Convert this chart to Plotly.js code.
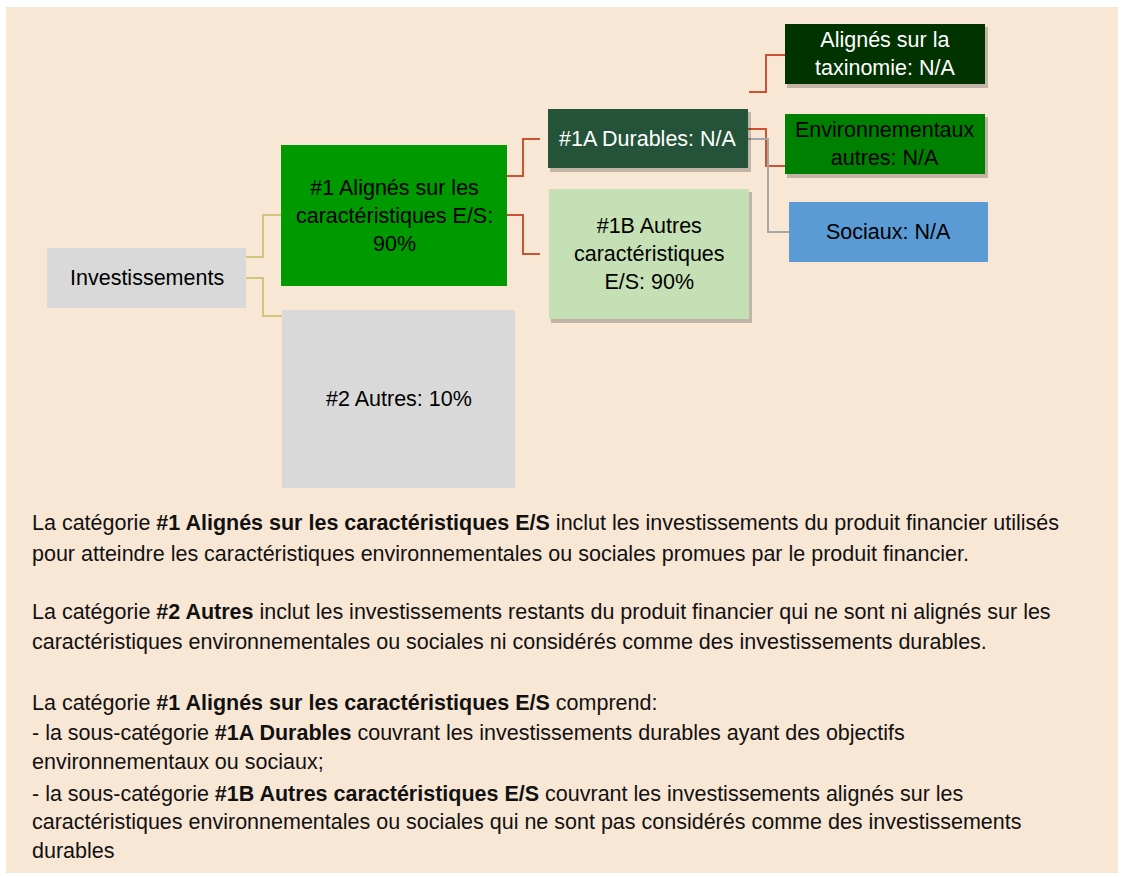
<!DOCTYPE html>
<html>
<head>
<meta charset="utf-8">
<script src="https://cdn.plot.ly/plotly-3.0.1.min.js"></script>
<style>html,body{margin:0;padding:0;background:#fff;}#chart{width:1123px;height:877px;}</style>
</head>
<body>
<div id="chart"></div>
<script>
// ---- data ----
const nodeNames = ["Investissements", "#1 Alignés sur les<br>caractéristiques E/S:", "#2 Autres:", "#1A Durables:", "#1B Autres<br>caractéristiques<br>E/S:", "Alignés sur la<br>taxinomie:", "Environnementaux<br>autres:", "Sociaux:"];
const nodeValues = ["", "90%", "10%", "N/A", "90%", "N/A", "N/A", "N/A"];
const valueJoin = ["", "<br>", " ", " ", " ", " ", " ", " "];
const parentIndex = [-1, 0, 0, 1, 1, 3, 3, 3];
const paragraphs = [
  "La catégorie <b>#1 Alignés sur les caractéristiques E/S</b> inclut les investissements du produit financier utilisés",
  "pour atteindre les caractéristiques environnementales ou sociales promues par le produit financier.",
  "La catégorie <b>#2 Autres</b> inclut les investissements restants du produit financier qui ne sont ni alignés sur les",
  "caractéristiques environnementales ou sociales ni considérés comme des investissements durables.",
  "La catégorie <b>#1 Alignés sur les caractéristiques E/S</b> comprend:",
  "- la sous-catégorie <b>#1A Durables</b> couvrant les investissements durables ayant des objectifs",
  "environnementaux ou sociaux;",
  "- la sous-catégorie <b>#1B Autres caractéristiques E/S</b> couvrant les investissements alignés sur les",
  "caractéristiques environnementales ou sociales qui ne sont pas considérés comme des investissements",
  "durables"
];

// ---- layout / styling (positions in axis units) ----
const boxes = [
  {x0:47,  x1:246, y0:248, y1:308, fill:"#d9d9d9", font:"#000", shadow:false},
  {x0:281, x1:507, y0:145, y1:286, fill:"#009900", font:"#000", shadow:false},
  {x0:282, x1:515, y0:310, y1:488, fill:"#d9d9d9", font:"#000", shadow:false},
  {x0:548, x1:748, y0:109, y1:168, fill:"#245339", font:"#fff", shadow:true},
  {x0:549, x1:749, y0:189, y1:319, fill:"#c5e0b4", font:"#000", shadow:true},
  {x0:785, x1:985, y0:24,  y1:84,  fill:"#003300", font:"#fff", shadow:true},
  {x0:785, x1:985, y0:114, y1:174, fill:"#008000", font:"#000", shadow:true},
  {x0:789, x1:988, y0:202, y1:262, fill:"#5b9bd5", font:"#000", shadow:false}
];
// connector geometry: [startX, startY, elbowX, endX, endY, color]
const connectors = {
  1: [246, 257, 263, 281, 215, "#d3c67c"],
  2: [246, 278, 263, 282, 316, "#d3c67c"],
  3: [507, 176, 523, 540, 139, "#cc5234"],
  4: [507, 215, 523, 540, 254, "#cc5234"],
  5: [749, 92, 766, 785, 55, "#cc5234"],
  6: [748, 129, 766, 785, 166, "#cc5234"],
  7: [748, 139, 768, 789, 232, "#a6a6a6"]
};
const paraY = [523, 554, 612, 642, 703, 733, 762, 794, 822, 851];

const shapes = [];
const annotations = [];
shapes.push({type:"rect", xref:"x", yref:"y", x0:6, x1:1118, y0:7, y1:873, fillcolor:"#f9e7d6", line:{width:0}, layer:"below"});

for (let i = 0; i < nodeNames.length; i++) {
  if (parentIndex[i] < 0) continue;
  const c = connectors[i];
  shapes.push({type:"path", xref:"x", yref:"y",
    path:`M ${c[0]} ${c[1]} L ${c[2]} ${c[1]} L ${c[2]} ${c[4]} L ${c[3]} ${c[4]}`,
    line:{color:c[5], width:2}, layer:"above"});
}
boxes.forEach((b, i) => {
  if (b.shadow) {
    shapes.push({type:"rect", xref:"x", yref:"y", x0:b.x0+2, x1:b.x1+3, y0:b.y0+3, y1:b.y1+4,
      fillcolor:"rgba(0,0,0,0.22)", line:{width:0}, layer:"above"});
  }
  shapes.push({type:"rect", xref:"x", yref:"y", x0:b.x0, x1:b.x1, y0:b.y0, y1:b.y1,
    fillcolor:b.fill, line:{width:0}, layer:"above"});
  annotations.push({xref:"x", yref:"y", x:(b.x0+b.x1)/2, y:(b.y0+b.y1)/2,
    text: nodeNames[i] + (nodeValues[i] ? valueJoin[i] + nodeValues[i] : ""),
    showarrow:false, xanchor:"center", yanchor:"middle", align:"center",
    font:{family:"Liberation Sans, Arial, sans-serif", size:21.5, color:b.font}});
});
paragraphs.forEach((t, i) => {
  annotations.push({xref:"x", yref:"y", x:30, y:paraY[i], text:t, showarrow:false,
    xanchor:"left", yanchor:"middle", align:"left",
    font:{family:"Liberation Sans, Arial, sans-serif", size:21.5, color:"#111"}});
});

const layout = {
  width:1123, height:877,
  margin:{l:0, r:0, t:0, b:0},
  paper_bgcolor:"#ffffff", plot_bgcolor:"#ffffff",
  xaxis:{range:[0,1123], visible:false, fixedrange:true},
  yaxis:{range:[877,0], visible:false, fixedrange:true},
  showlegend:false,
  shapes:shapes, annotations:annotations
};
Plotly.newPlot("chart", [{x:[0], y:[0], mode:"markers", marker:{opacity:0}, hoverinfo:"skip"}], layout, {staticPlot:true, displayModeBar:false});
</script>
</body>
</html>
